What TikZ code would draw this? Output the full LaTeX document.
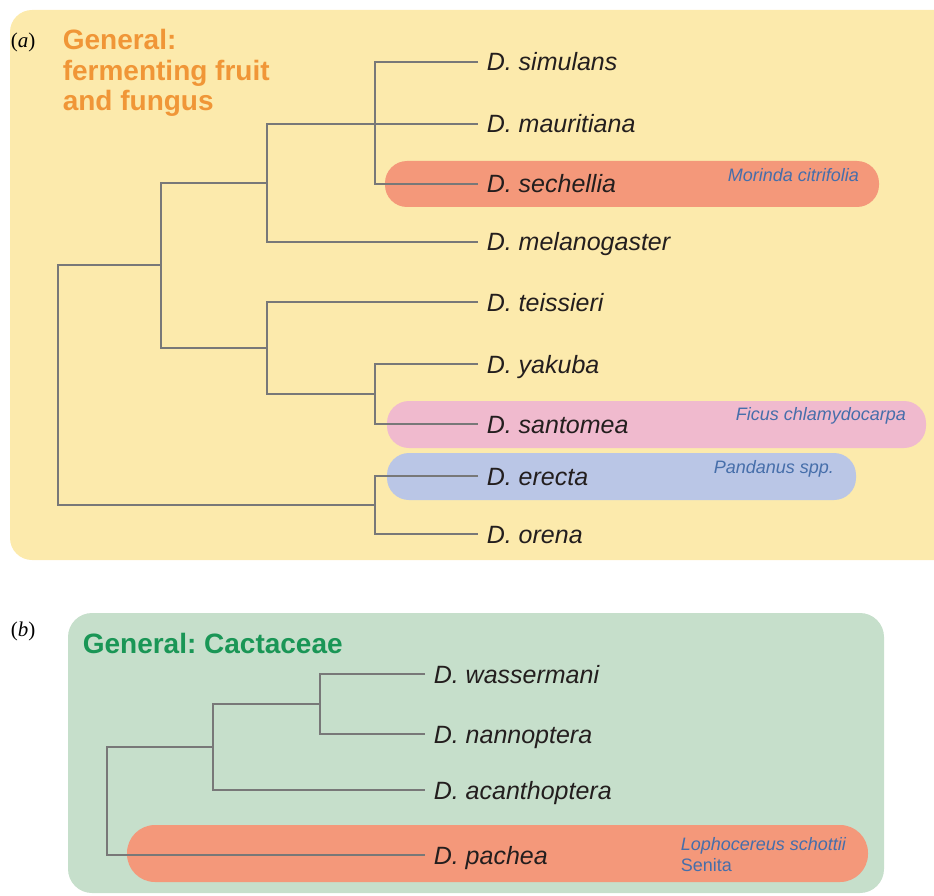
\documentclass[tikz,border=0pt]{standalone}
\usepackage{fontspec}
\setmainfont{Liberation Sans}
\newfontfamily\panelfont{Liberation Serif}
\frenchspacing
\definecolor{fruitbg}{RGB}{252,234,172}
\definecolor{cactusbg}{RGB}{198,223,203}
\definecolor{salmonpill}{RGB}{244,152,122}
\definecolor{pinkpill}{RGB}{240,186,206}
\definecolor{bluepill}{RGB}{186,198,230}
\definecolor{fruitorange}{RGB}{240,150,55}
\definecolor{cactusgreen}{RGB}{26,150,86}
\definecolor{hostblue}{RGB}{70,110,170}
\definecolor{branchgray}{RGB}{120,120,120}
\definecolor{leafblack}{RGB}{35,30,30}

\begin{document}
\begin{tikzpicture}[x=1pt, y=-1pt, line width=1.6pt,
    branch/.style={draw=branchgray},
    leaf/.style={anchor=west, inner xsep=8pt, inner ysep=0pt, text height=18pt, text depth=0pt,
        font=\fontsize{25}{30}\selectfont\itshape, text=leafblack},
    host/.style={anchor=base west, inner sep=0pt, align=left,
        font=\fontsize{18}{21}\selectfont\itshape, text=hostblue},
    pill/.style={rounded corners=22pt},
    panel/.style={anchor=base west, inner sep=0pt, font=\fontsize{21}{24}\panelfont}]
    \clip (0,0) rectangle (934,896);
    % backgrounds
    \fill[fruitbg, rounded corners=22pt] (10,10) rectangle (980,560);
    \fill[cactusbg, rounded corners=24pt] (68,613) rectangle (884,893);
    \fill[salmonpill, pill] (385,161) rectangle (879,207);
    \fill[pinkpill, pill] (387,401) rectangle (926,448);
    \fill[bluepill, pill] (387,453) rectangle (856,500);
    \fill[salmonpill, pill, rounded corners=28pt] (127,825) rectangle (868,882);
    % panel (a)
    \node[panel] (pa) at (10,48) {(\textit{a})};
    \node[anchor=base west, inner sep=0pt, align=left, text=fruitorange,
        font=\fontsize{28}{30.5}\selectfont\bfseries] (ta) at (62,111) {General:\\fermenting fruit\\and fungus};
    \node[leaf] (sim) at (478,62) {D. simulans};
    \node[leaf] (maur) at (478,124) {D. mauritiana};
    \node[leaf] (sech) at (478,184) {D. sechellia};
    \node[leaf] (mel) at (478,242) {D. melanogaster};
    \node[leaf] (teis) at (478,302) {D. teissieri};
    \node[leaf] (yak) at (478,364) {D. yakuba};
    \node[leaf] (sant) at (478,424) {D. santomea};
    \node[leaf] (ere) at (478,476) {D. erecta};
    \node[leaf] (ore) at (478,534) {D. orena};
    \node[host] (mor) at (727,182) {Morinda citrifolia};
    \node[host] (fic) at (735,420) {Ficus chlamydocarpa};
    \node[host] (pan) at (713,473) {Pandanus spp.};
    \coordinate (a1) at (375,124);
    \coordinate (a2) at (267,183);
    \coordinate (a3) at (267,348);
    \coordinate (a4) at (375,394);
    \coordinate (a5) at (161,265);
    \coordinate (a6) at (375,505);
    \coordinate (a7) at (58,385);
    \draw[branch] (sim.west) -| (a1) |- (sech.west);
    \draw[branch] (a1) -- (maur.west);
    \draw[branch] (a1) -| (a2) |- (mel.west);
    \draw[branch] (yak.west) -| (a4) |- (sant.west);
    \draw[branch] (teis.west) -| (a3) |- (a4);
    \draw[branch] (a2) -| (a5) |- (a3);
    \draw[branch] (ere.west) -| (a6) |- (ore.west);
    \draw[branch] (a5) -| (a7) |- (a6);
    % panel (b)
    \node[panel] (pb) at (10,636) {(\textit{b})};
    \node[anchor=base west, inner sep=0pt, text=cactusgreen,
        font=\fontsize{28}{30}\selectfont\bfseries] (tb) at (82,653) {General: Cactaceae};
    \node[leaf] (was) at (425,674) {D. wassermani};
    \node[leaf] (nan) at (425,734) {D. nannoptera};
    \node[leaf] (aca) at (425,790) {D. acanthoptera};
    \node[leaf] (pac) at (425,855) {D. pachea};
    \node[host] (lop) at (680,871) {Lophocereus schottii\\\upshape Senita};
    \coordinate (b1) at (320,704);
    \coordinate (b2) at (213,747);
    \coordinate (b3) at (107,800);
    \draw[branch] (was.west) -| (b1) |- (nan.west);
    \draw[branch] (b1) -| (b2) |- (aca.west);
    \draw[branch] (b2) -| (b3) |- (pac.west);
\end{tikzpicture}
\end{document}
